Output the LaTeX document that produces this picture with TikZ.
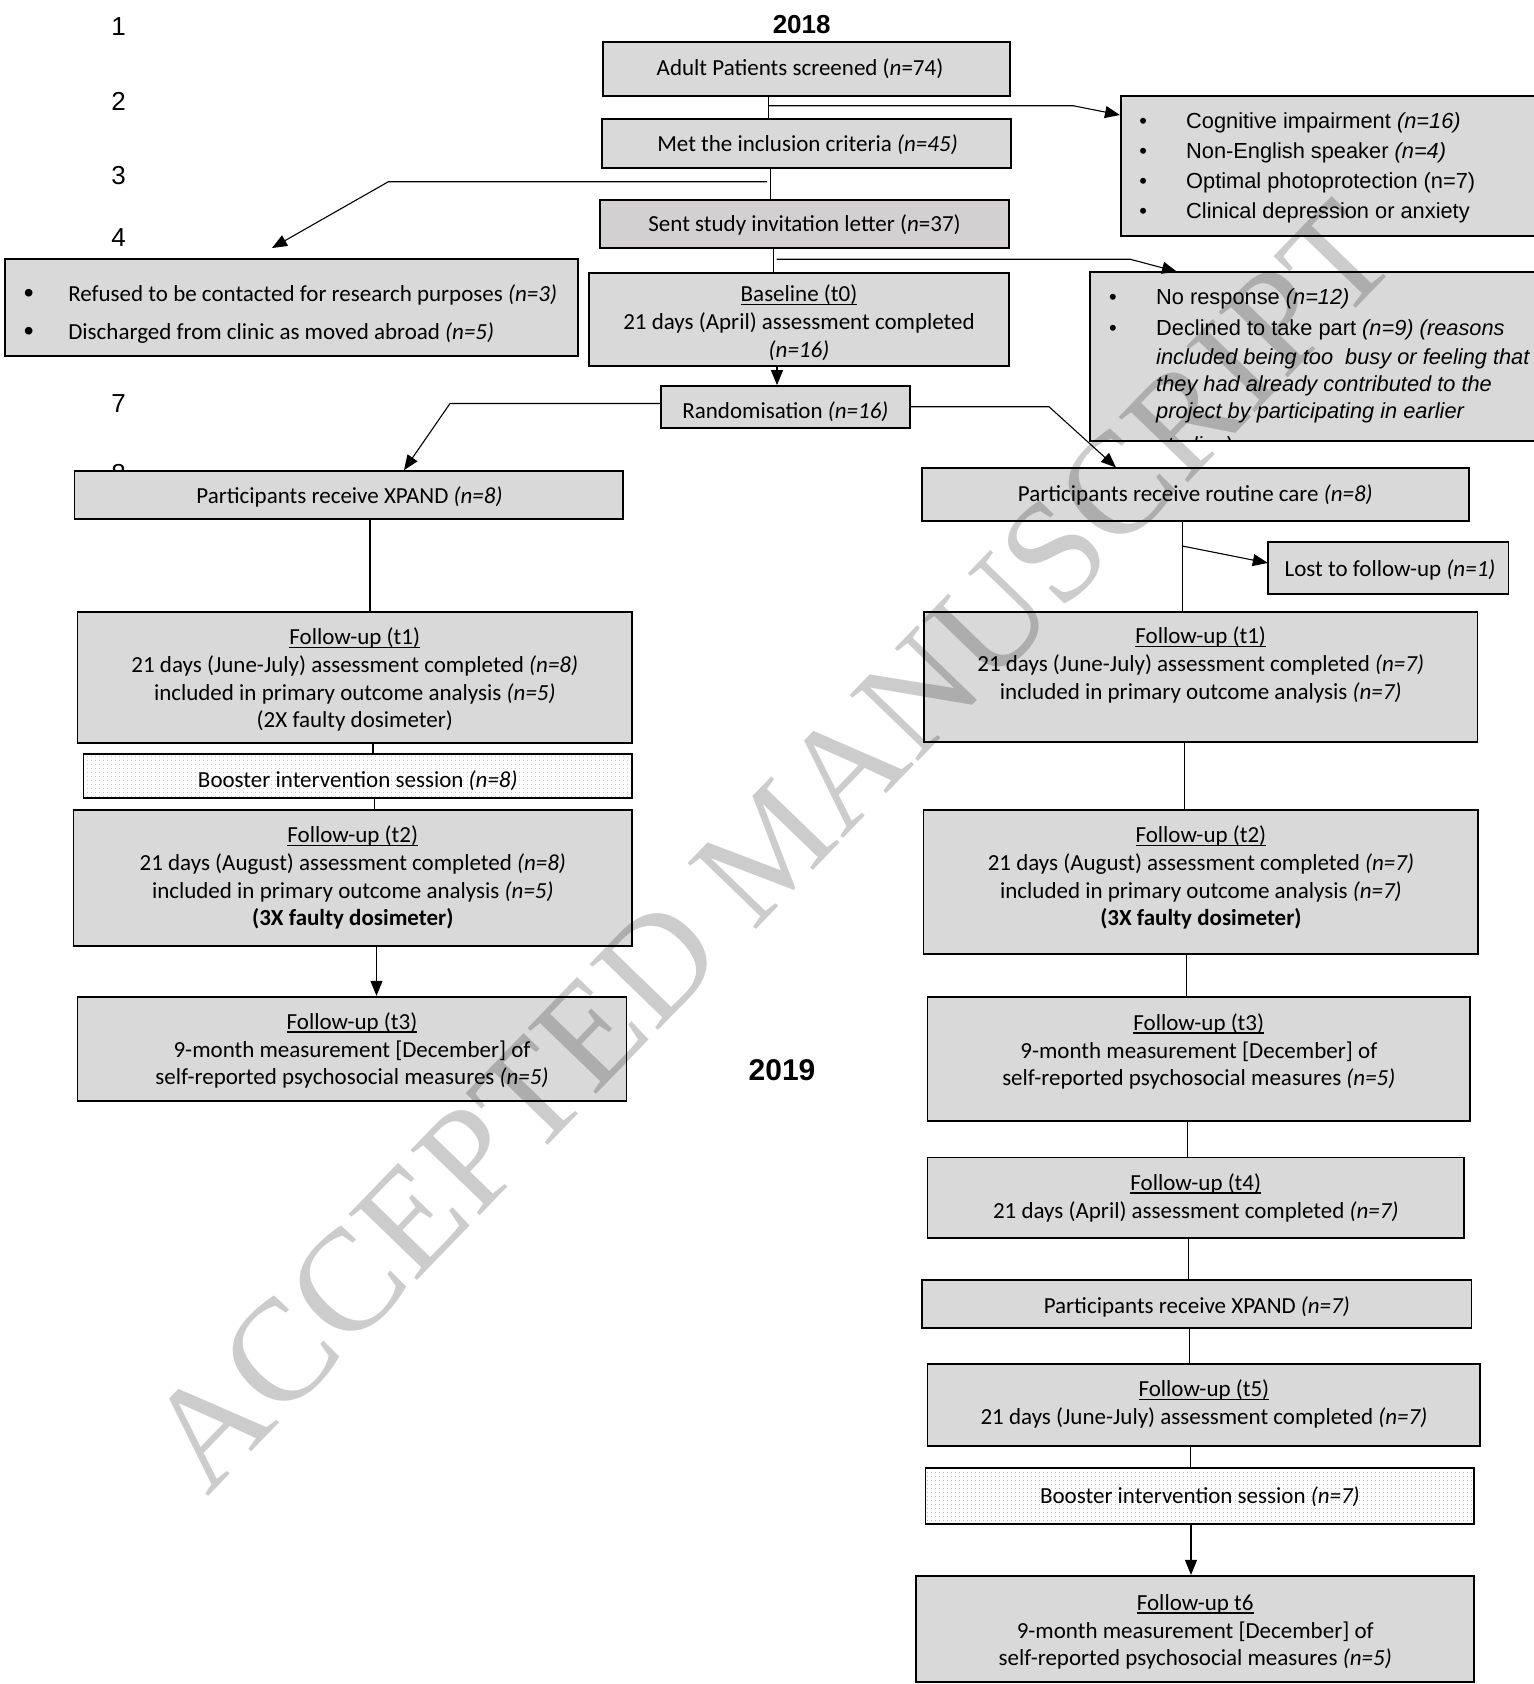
\documentclass[tikz,border=0pt]{standalone}
\usepackage{fontspec}
\setmainfont{Carlito}
\newfontfamily\arial{Liberation Sans}
\newfontfamily\tms{Liberation Serif}
\usetikzlibrary{arrows.meta,patterns.meta}
\definecolor{boxgray}{HTML}{D9D9D9}
\definecolor{sentgray}{HTML}{D2D0D0}
\definecolor{wmgray}{rgb}{0.80,0.80,0.80}
\newsavebox\ulb
\newcommand\ulx[1]{\sbox\ulb{#1}\rlap{\rule[-3.2pt]{\wd\ulb}{1.3pt}}\usebox\ulb}
\begin{document}
\begin{tikzpicture}[x=1pt,y=-1pt,
  box/.style={draw=black, line width=1.7pt, fill=boxgray, inner sep=0pt},
  boostbox/.style={box, preaction={fill=white}, pattern={Dots[distance=4pt,radius=0.6pt]}, pattern color=gray!65},
  txt/.style={inner sep=0pt, align=center, font=\fontsize{23}{27.7}\selectfont},
  listtxt/.style={anchor=base west, inner sep=0pt, font=\arial\fontsize{21.8}{27}\selectfont},
  lefttxt/.style={anchor=base west, inner sep=0pt, font=\fontsize{23}{27.7}\selectfont},
  bul/.style={anchor=base, inner sep=0pt, font=\arial\fontsize{21.8}{27}\selectfont},
  lbul/.style={anchor=base, inner sep=0pt, font=\arial\fontsize{28}{28}\selectfont},
  num/.style={inner sep=0pt, font=\arial\fontsize{26}{26}\selectfont},
  conn/.style={draw=black, line width=1.1pt},
  arr/.style={conn, -{Triangle[length=15pt,width=12pt]}}]
\useasboundingbox (0,0) rectangle (1534,1684);
\fill[white] (0,0) rectangle (1534,1684);

% line numbers and years
\node[num] (n1) at (118.5,26.7) {1};
\node[num] (n2) at (118.5,101.7) {2};
\node[num] (n3) at (118.5,175.7) {3};
\node[num] (n4) at (118.5,237.3) {4};
\node[num] (n7) at (118.5,403.3) {7};
\node[num] (n8) at (118.5,473.5) {8};
\node[inner sep=0pt, font=\arial\bfseries\fontsize{26}{26}\selectfont] (y18) at (801.7,25) {2018};
\node[inner sep=0pt, font=\arial\bfseries\fontsize{30}{30}\selectfont] (y19) at (782,1070) {2019};

% main column
\node[box, minimum width=407.3pt, minimum height=54pt] (screened) at (806.4,69) {};
\node[txt] (screenedt) at (800,68.6) {Adult Patients screened (\textit{n}=74)};
\node[box, minimum width=409pt, minimum height=49pt] (met) at (806.2,143.5) {};
\node[txt] (mett) at (807.5,144.5) {Met the inclusion criteria \textit{(n=45)}};
\node[box, fill=sentgray, minimum width=409pt, minimum height=48pt] (sent) at (804.5,224) {};
\node[txt] (sentt) at (804.5,224.7) {Sent study invitation letter (\textit{n}=37)};
\node[box, minimum width=420pt, minimum height=93pt] (baseline) at (799,319.5) {};
\node[txt] (baselinet) at (799,322.6) {\ulx{Baseline (t0)}\\21 days (April) assessment completed\\\textit{(n=16)}};
\node[box, minimum width=249.3pt, minimum height=42pt] (rand) at (785.4,407) {};
\node[txt] (randt) at (785.4,411.3) {Randomisation \textit{(n=16)}};

% exclusion boxes
\node[box, minimum width=424.3pt, minimum height=140.3pt] (cog) at (1332.9,165.9) {};
\node[bul] (cb1) at (1143.3,128) {•};
\node[bul] (cb2) at (1143.3,158.7) {•};
\node[bul] (cb3) at (1143.3,188.7) {•};
\node[bul] (cb4) at (1143.3,218) {•};
\node[listtxt] (ct1) at (1186,128) {Cognitive impairment \textit{(n=16)}};
\node[listtxt] (ct2) at (1186,158.7) {Non-English speaker \textit{(n=4)}};
\node[listtxt] (ct3) at (1186,188.7) {Optimal photoprotection (n=7)};
\node[listtxt] (ct4) at (1186,218) {Clinical depression or anxiety};

\node[box, minimum width=573.3pt, minimum height=97pt] (leftx) at (291.3,307.5) {};
\node[lbul] (lb1) at (28.7,302) {•};
\node[lbul] (lb2) at (28.7,340.4) {•};
\node[lefttxt] (lt1) at (68.1,301) {Refused to be contacted for research purposes \textit{(n=3)}};
\node[lefttxt] (lt2) at (68.1,339.4) {Discharged from clinic as moved abroad \textit{(n=5)}};

\node[box, minimum width=455pt, minimum height=169.3pt] (noresp) at (1317.5,356.4) {};
\node[bul] (rb1) at (1113,304) {•};
\node[bul] (rb2) at (1113,335.3) {•};
\node[listtxt] (rt1) at (1156,304) {No response \textit{(n=12)}};
\node[listtxt] (rt2) at (1156,335.3) {Declined to take part \textit{(n=9) (reasons}};
\node[listtxt] (rt3) at (1156,364.2) {\textit{included being too\ \ busy or feeling that}};
\node[listtxt] (rt4) at (1156,391.3) {\textit{they had already contributed to the}};
\node[listtxt] (rt5) at (1156,418.8) {\textit{project by participating in earlier}};
\begin{scope}
\clip (1091,273) rectangle (1545,440);
\node[listtxt] (rt6) at (1156,452.5) {\textit{studies).}};
\end{scope}

% left arm
\node[box, minimum width=548.3pt, minimum height=48pt] (xpandL) at (348.6,495) {};
\node[txt] (xpandLt) at (349.5,497.2) {Participants receive XPAND \textit{(n=8)}};
\node[box, minimum width=554.4pt, minimum height=130.4pt] (t1L) at (354.8,677.5) {};
\node[txt] (t1Lt) at (354.8,679.8) {\ulx{Follow-up (t1)}\\21 days (June-July) assessment completed \textit{(n=8)}\\included in primary outcome analysis \textit{(n=5)}\\(2X faulty dosimeter)};
\node[boostbox, minimum width=548.5pt, minimum height=43.7pt] (boostL) at (357.8,775.9) {};
\node[txt] (boostLt) at (357.8,780.8) {Booster intervention session \textit{(n=8)}};
\node[box, minimum width=558.4pt, minimum height=135.7pt] (t2L) at (352.8,877.9) {};
\node[txt] (t2Lt) at (352.8,877.6) {\ulx{Follow-up (t2)}\\21 days (August) assessment completed \textit{(n=8)}\\included in primary outcome analysis \textit{(n=5)}\\\textbf{(3X faulty dosimeter)}};
\node[box, minimum width=548.8pt, minimum height=104pt] (t3L) at (352,1048.7) {};
\node[txt] (t3Lt) at (352,1050.5) {\ulx{Follow-up (t3)}\\9-month measurement [December] of\\self-reported psychosocial measures \textit{(n=5)}};

% right arm
\node[box, minimum width=547.1pt, minimum height=52.4pt] (routine) at (1195.3,494.5) {};
\node[txt] (routinet) at (1195.3,495.3) {Participants receive routine care \textit{(n=8)}};
\node[box, minimum width=240.6pt, minimum height=52.3pt] (lost) at (1388.1,567.9) {};
\node[txt] (lostt) at (1390,569.5) {Lost to follow-up \textit{(n=1)}};
\node[box, minimum width=553.8pt, minimum height=130pt] (t1R) at (1200.7,676.7) {};
\node[txt] (t1Rt) at (1200.7,664.9) {\ulx{Follow-up (t1)}\\21 days (June-July) assessment completed \textit{(n=7)}\\included in primary outcome analysis \textit{(n=7)}};
\node[box, minimum width=554.8pt, minimum height=143.7pt] (t2R) at (1200.9,881.9) {};
\node[txt] (t2Rt) at (1200.9,877.6) {\ulx{Follow-up (t2)}\\21 days (August) assessment completed \textit{(n=7)}\\included in primary outcome analysis \textit{(n=7)}\\\textbf{(3X faulty dosimeter)}};
\node[box, minimum width=542.5pt, minimum height=123.4pt] (t3R) at (1198.8,1059) {};
\node[txt] (t3Rt) at (1198.8,1051.6) {\ulx{Follow-up (t3)}\\9-month measurement [December] of\\self-reported psychosocial measures \textit{(n=5)}};
\node[box, minimum width=536.5pt, minimum height=80.4pt] (t4) at (1195.8,1197.7) {};
\node[txt] (t4t) at (1195.8,1197.7) {\ulx{Follow-up (t4)}\\21 days (April) assessment completed \textit{(n=7)}};
\node[box, minimum width=549.2pt, minimum height=48pt] (xpandR) at (1196.8,1304.1) {};
\node[txt] (xpandRt) at (1196.8,1306.8) {Participants receive XPAND \textit{(n=7)}};
\node[box, minimum width=552.8pt, minimum height=81.7pt] (t5) at (1203.9,1404.8) {};
\node[txt] (t5t) at (1203.9,1403.9) {\ulx{Follow-up (t5)}\\21 days (June-July) assessment completed \textit{(n=7)}};
\node[boostbox, minimum width=548.7pt, minimum height=56.2pt] (boostR) at (1199.9,1495.9) {};
\node[txt] (boostRt) at (1199.9,1496.2) {Booster intervention session \textit{(n=7)}};
\node[box, minimum width=558pt, minimum height=106.3pt] (t6) at (1195.2,1628.9) {};
\node[txt] (t6t) at (1195.2,1632) {\ulx{Follow-up t6}\\9-month measurement [December] of\\self-reported psychosocial measures \textit{(n=5)}};

% connector coordinates
\coordinate (p1) at (768.3,105.7);
\coordinate (k1) at (1073,105.7);
\coordinate (e1) at (1120,115);
\coordinate (p2) at (770.7,181.7);
\coordinate (q2) at (767,181.7);
\coordinate (k2) at (388.4,181.7);
\coordinate (e2) at (272,248);
\coordinate (p3) at (773.3,259.2);
\coordinate (r3) at (776.7,259.2);
\coordinate (k3) at (1130,259.2);
\coordinate (e3) at (1177,271.7);
\coordinate (p4) at (777,0);
\coordinate (k5) at (450,403.5);
\coordinate (e5) at (404,0);
\coordinate (k6) at (1049,406.7);
\coordinate (e6) at (1116,0);
\coordinate (a1) at (370,0);
\coordinate (a2) at (373,0);
\coordinate (a3) at (374.5,0);
\coordinate (a4) at (376.5,0);
\coordinate (b1) at (1182.3,0);
\coordinate (p7) at (1182.3,546);
\coordinate (e7) at (1267.8,563);
\coordinate (b2) at (1184.3,0);
\coordinate (b3) at (1186.3,0);
\coordinate (b4) at (1187.5,0);
\coordinate (b5) at (1188.3,0);
\coordinate (b6) at (1189.3,0);
\coordinate (b7) at (1190.3,0);
\coordinate (b8) at (1191,0);

% connectors
\draw[conn] (screened.south -| p1) -- (met.north -| p1);
\draw[arr] (p1) -- (k1) -- (e1);
\draw[conn] (met.south -| p2) -- (sent.north -| p2);
\draw[arr] (q2) -- (k2) -- (e2);
\draw[conn] (sent.south -| p3) -- (baseline.north -| p3);
\draw[arr] (r3) -- (k3) -- (e3);
\draw[arr] (baseline.south -| p4) -- (rand.north -| p4);
\draw[arr] (rand.west |- k5) -- (k5) -- (xpandL.north -| e5);
\draw[arr] (rand.east |- k6) -- (k6) -- (routine.north -| e6);
\draw[conn] (xpandL.south -| a1) -- (t1L.north -| a1);
\draw[conn] (t1L.south -| a2) -- (boostL.north -| a2);
\draw[conn] (boostL.south -| a3) -- (t2L.north -| a3);
\draw[arr] (t2L.south -| a4) -- (t3L.north -| a4);
\draw[conn] (routine.south -| b1) -- (t1R.north -| b1);
\draw[arr] (p7) -- (e7);
\draw[conn] (t1R.south -| b2) -- (t2R.north -| b2);
\draw[conn] (t2R.south -| b3) -- (t3R.north -| b3);
\draw[conn] (t3R.south -| b4) -- (t4.north -| b4);
\draw[conn] (t4.south -| b5) -- (xpandR.north -| b5);
\draw[conn] (xpandR.south -| b6) -- (t5.north -| b6);
\draw[conn] (t5.south -| b7) -- (boostR.north -| b7);
\draw[arr] (boostR.south -| b8) -- (t6.north -| b8);

% watermark
\begin{scope}[blend mode=multiply]
\node[rotate=46, inner sep=0pt, text=wmgray, font=\tms\fontsize{145}{145}\selectfont] (wm) at (771,846) {ACCEPTED MANUSCRIPT};
\end{scope}
\end{tikzpicture}
\end{document}
